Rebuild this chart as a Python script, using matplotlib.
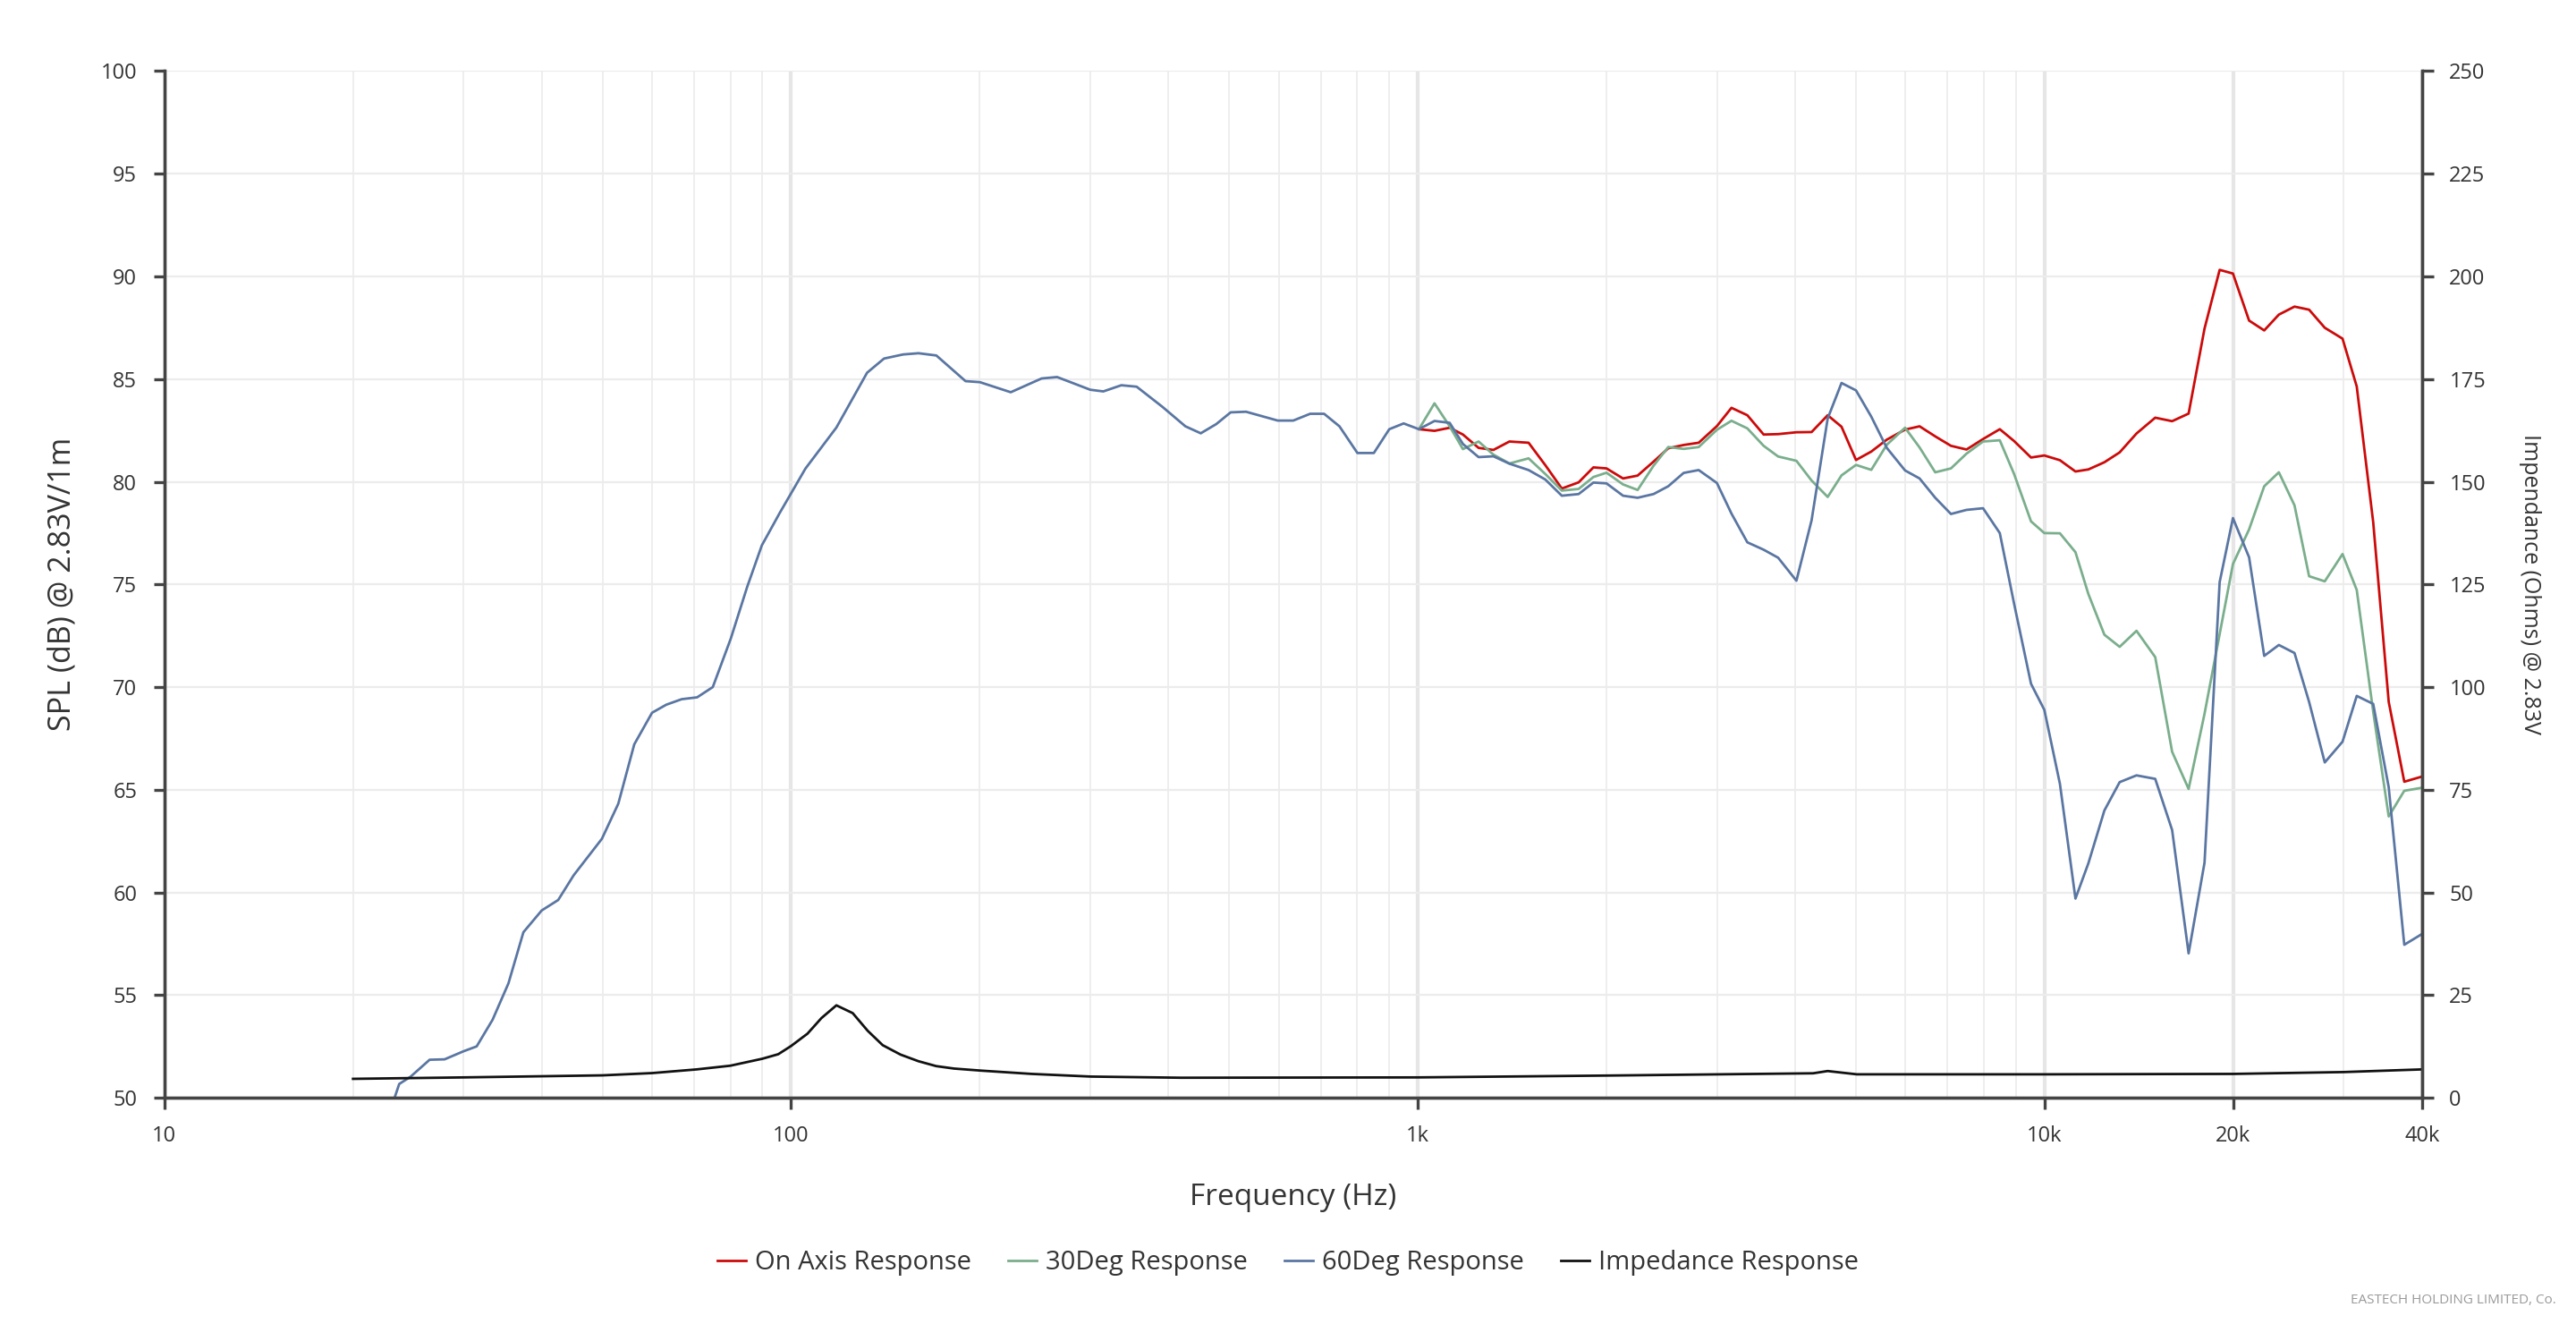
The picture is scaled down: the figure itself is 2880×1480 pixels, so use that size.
import matplotlib
matplotlib.use("Agg")
import matplotlib.pyplot as plt
from matplotlib.ticker import FixedLocator, NullFormatter

plt.rcParams['font.family'] = ['Open Sans', 'DejaVu Sans']

# 60 degree response below 1 kHz (the on-axis / 30deg curves sit under it here)
freq_low = [23.3, 23.7, 24.7, 26.5, 28.0, 30.0, 31.5, 33.4, 35.4, 37.4, 40.0, 42.5,
            45.0, 49.9, 53.0, 56.2, 60.0, 63.2, 66.9, 70.8, 75.0, 80.1, 85.1, 89.8,
            95.9, 105.4, 118.1, 132.2, 140.7, 150.9, 159.7, 170.5, 189.8, 200.1,
            224.1, 251, 265.7, 300.2, 314.9, 336.4, 355.9, 391.2, 425.7, 450.4,
            476.9, 502.7, 531.9, 597.6, 632.7, 673.2, 708.6, 749.7, 800.9, 850.7,
            900.4, 949.1]
deg60_low = [50.0, 50.67, 51.02, 51.85, 51.87, 52.26, 52.5, 53.8, 55.57, 58.06, 59.12, 59.63,
             60.84, 62.61, 64.32, 67.21, 68.75, 69.14, 69.41, 69.5, 70.0, 72.35, 74.88, 76.9,
             78.48, 80.64, 82.64, 85.31, 86.0, 86.2, 86.26, 86.15, 84.9, 84.85,
             84.36, 85.03, 85.1, 84.48, 84.4, 84.7, 84.63, 83.65, 82.7, 82.36,
             82.81, 83.38, 83.41, 82.98, 82.98, 83.31, 83.31, 82.7, 81.4, 81.4,
             82.56, 82.84]

# 1 kHz .. 40 kHz
freq_high = [1004, 1063, 1124, 1180, 1250, 1320, 1400, 1502, 1597, 1697,
             1805, 1906, 2000, 2125, 2242, 2377, 2509, 2655, 2806, 3000,
             3165, 3355, 3562, 3757, 4018, 4248, 4507, 4742, 5001, 5290,
             5600, 5989, 6317, 6691, 7089, 7506, 7976, 8482, 8941, 9513,
             9990, 10578, 11200, 11745, 12456, 13174, 14016, 15013, 15975, 16973,
             17995, 19023, 19975, 21196, 22407, 23645, 25044, 26423, 27990, 29877,
             31478, 33441, 35402, 37486, 39886]

on_axis = [82.56, 82.48, 82.63, 82.3, 81.65, 81.55, 81.96, 81.9, 80.81, 79.67,
           79.97, 80.7, 80.65, 80.16, 80.3, 80.98, 81.63, 81.79, 81.9, 82.71,
           83.6, 83.24, 82.3, 82.32, 82.41, 82.42, 83.24, 82.68, 81.06, 81.47,
           82.05, 82.54, 82.7, 82.21, 81.75, 81.57, 82.08, 82.56, 81.98, 81.18,
           81.28, 81.05, 80.5, 80.6, 80.95, 81.43, 82.35, 83.12, 82.95, 83.32,
           87.46, 90.32, 90.14, 87.85, 87.37, 88.14, 88.53, 88.38, 87.5, 86.97,
           84.64, 78.03, 69.28, 65.39, 65.63]

freq_30 = [1004, 1063, 1124, 1180, 1250, 1320, 1400, 1502, 1597, 1697,
           1805, 1906, 2000, 2125, 2242, 2377, 2509, 2655, 2806, 3000,
           3165, 3355, 3562, 3757, 4018, 4248, 4507, 4742, 5001, 5290,
           5600, 5989, 6317, 6691, 7089, 7506, 7976, 8482, 8941, 9513,
           9990, 10578, 11200, 11745, 12456, 13174, 14016, 15013, 15975, 16973,
           17995, 19975, 21196, 22407, 23645, 25044, 26423, 27990, 29877,
           31478, 33441, 35402, 37486, 39886]
deg30 = [82.56, 83.82, 82.7, 81.59, 81.96, 81.32, 80.89, 81.14, 80.38, 79.57,
         79.65, 80.23, 80.44, 79.87, 79.6, 80.78, 81.69, 81.6, 81.69, 82.53,
         82.97, 82.6, 81.75, 81.23, 81.02, 80.06, 79.26, 80.31, 80.82, 80.58,
         81.8, 82.63, 81.67, 80.46, 80.65, 81.37, 81.96, 82.02, 80.37, 78.07,
         77.5, 77.49, 76.57, 74.53, 72.55, 71.96, 72.74, 71.46, 66.85, 65.04,
         68.7, 75.99, 77.68, 79.78, 80.46, 78.85, 75.4, 75.15, 76.48,
         74.73, 68.8, 63.7, 64.95, 65.09]

deg60_high = [82.56, 82.96, 82.87, 81.84, 81.2, 81.24, 80.88, 80.57, 80.11, 79.32,
              79.4, 79.96, 79.92, 79.32, 79.22, 79.4, 79.78, 80.43, 80.57, 79.94,
              78.45, 77.05, 76.69, 76.3, 75.18, 78.12, 83.08, 84.81, 84.45, 83.17,
              81.65, 80.55, 80.16, 79.22, 78.43, 78.63, 78.71, 77.5, 74.05, 70.16,
              68.89, 65.29, 59.7, 61.42, 63.99, 65.37, 65.7, 65.53, 63.04, 57.03,
              61.45, 75.11, 78.23, 76.32, 71.52, 72.05, 71.66, 69.28, 66.33, 67.34,
              69.57, 69.18, 65.12, 57.45, 57.95]

freq_imp = [20, 30, 50, 60, 70.7, 80, 90, 95.4, 100, 106.2, 111.8, 118.1, 125.4,
            132.5, 140, 149.5, 159.6, 170.4, 182, 201, 242, 301, 419, 1000, 2010,
            4272, 4506, 5017, 10000, 20000, 30000, 40000]
impedance = [4.6, 4.95, 5.45, 6.0, 6.9, 7.8, 9.5, 10.6, 12.6, 15.6, 19.4, 22.5, 20.6,
             16.3, 12.8, 10.5, 8.9, 7.7, 7.1, 6.6, 5.8, 5.15, 4.87, 4.95, 5.4,
             5.95, 6.5, 5.7, 5.7, 5.8, 6.25, 6.9]

x_major = [10, 100, 1000, 10000, 20000, 40000]
x_labels = ['10', '100', '1k', '10k', '20k', '40k']
x_minor = [20, 30, 40, 50, 60, 70, 80, 90, 200, 300, 400, 500, 600, 700, 800, 900,
           2000, 3000, 4000, 5000, 6000, 7000, 8000, 9000, 30000]

RED = '#cc0a0a'
GREEN = '#7aae8c'
BLUE = '#5a76a2'
TXT = '#333333'
SPINE = '#444444'

fig = plt.figure(figsize=(28.8, 14.8), dpi=100)
ax = fig.add_axes([0.0638, 0.1709, 0.8764, 0.7754])
ax2 = ax.twinx()

ax.set_xscale('log')
ax.set_xlim(10, 40000)
ax.set_ylim(50, 100)
ax2.set_ylim(0, 250)

# grid
ax.xaxis.set_major_locator(FixedLocator(x_major))
ax.set_xticklabels(x_labels)
ax.xaxis.set_minor_locator(FixedLocator(x_minor))
ax.xaxis.set_minor_formatter(NullFormatter())
ax.grid(which='minor', axis='x', color='#eeeeee', lw=1.4)
ax.grid(which='major', axis='x', color='#e6e6e6', lw=3.0)
ax.set_yticks(range(50, 101, 5))
ax.grid(which='major', axis='y', color='#ececec', lw=1.6)
ax.set_axisbelow(True)
ax2.set_yticks(range(0, 251, 25))

l1, = ax.plot(freq_high, on_axis, color=RED, lw=2.0, label='On Axis Response')
l2, = ax.plot(freq_30, deg30, color=GREEN, lw=2.0, label='30Deg Response')
l3, = ax.plot(freq_low + freq_high, deg60_low + deg60_high, color=BLUE, lw=2.0,
              label='60Deg Response')
l4, = ax2.plot(freq_imp, impedance, color='#111111', lw=2.0, label='Impedance Response')

for a in (ax, ax2):
    a.spines['top'].set_visible(False)
    for s in ('left', 'right', 'bottom'):
        a.spines[s].set_color(SPINE)
        a.spines[s].set_linewidth(2.4)
    a.tick_params(which='major', length=9, width=2.4, color=SPINE, pad=13,
                  labelsize=17, labelcolor=TXT)
ax.tick_params(which='minor', length=0)

fig.text(0.0243, 0.5588, 'SPL (dB) @ 2.83V/1m', rotation=90, ha='center', va='center',
         fontsize=24.5, color=TXT)
fig.text(0.982, 0.5588, 'Impendance (Ohms) @ 2.83V', rotation=270, ha='center',
         va='center', fontsize=18, color=TXT)
fig.text(0.502, 0.0955, 'Frequency (Hz)', ha='center', va='center', fontsize=24, color=TXT)

leg = fig.legend(handles=[l1, l2, l3, l4], loc='center', bbox_to_anchor=(0.5, 0.046),
                 ncol=4, frameon=False, fontsize=21, handlelength=1.1,
                 handletextpad=0.35, columnspacing=1.4)
for t in leg.get_texts():
    t.set_color(TXT)

fig.text(0.9924, 0.0176, 'EASTECH HOLDING LIMITED, Co.', ha='right', va='center',
         fontsize=11, color='#999999')

fig.savefig('out.png', dpi=100)
